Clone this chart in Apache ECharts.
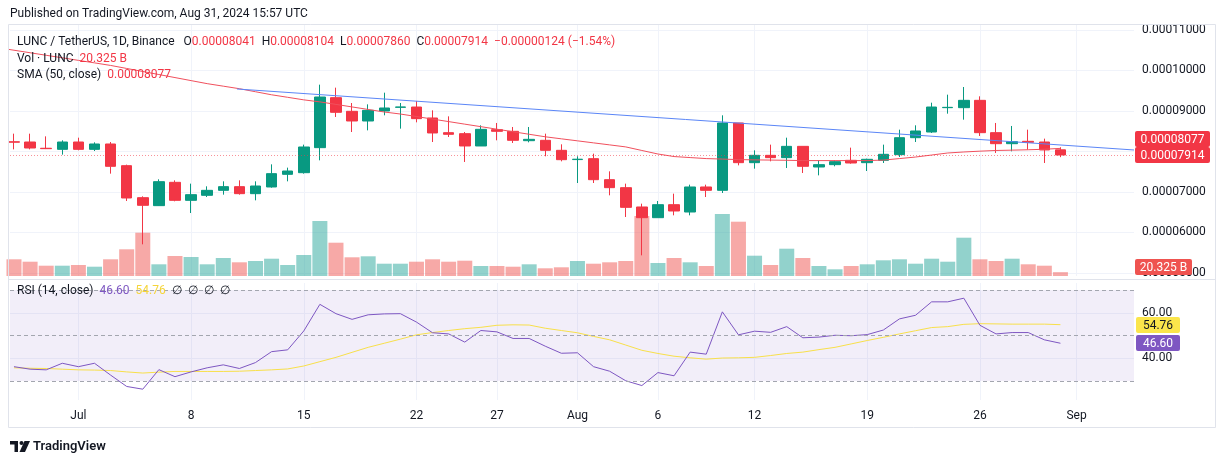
<!DOCTYPE html>
<html><head><meta charset="utf-8">
<script src="https://cdn.jsdelivr.net/npm/echarts@6.0.0/dist/echarts.min.js"></script>
<style>html,body{margin:0;padding:0;background:#fff}#c{width:1224px;height:464px}</style>
</head><body><div id="c"></div><script>
// Prices are stored in units of 1e-8 USDT (8041 = 0.00008041). Index 0 = Jun 27, 2024 ... index 65 = Aug 31, 2024.
const opens  = [8240,8234,8080,8053,8234,8053,8185,7650,6860,6663,7239,6794,6918,7041,7132,6959,7124,7436,7477,8095,9329,8992,8753,9000,9090,9098,8827,8465,8440,8136,8539,8498,8267,8276,8029,7800,7823,7304,7107,6630,6366,6687,6506,7124,7041,8704,7724,7905,7848,8127,7617,7675,7782,7724,7782,7922,8341,8481,9082,9082,9263,8465,8193,8251,8234,8041];
const highs  = [8440,8440,8374,8276,8341,8226,8234,7675,6893,7313,7288,7206,7140,7263,7288,7263,7683,7601,8169,9650,9576,9197,9164,9452,9197,9247,9016,8868,8481,8646,8704,8605,8605,8440,8177,7881,7946,7510,7206,6712,6778,6959,7181,7181,8893,8704,8029,8169,8341,8127,7782,7782,8095,7823,8169,8539,8646,9205,9403,9592,9362,8704,8630,8539,8317,8104];
const lows   = [8053,8053,8060,7922,8029,8012,7453,6778,5708,6654,6770,6481,6876,6934,6934,6794,7107,7263,7453,7782,8852,8481,8522,8893,8564,8720,8234,8358,7741,8136,8276,8210,8226,7881,7757,7222,7222,6918,6383,5436,6366,6424,6424,6876,6975,7658,7576,7757,7592,7469,7411,7634,7699,7518,7716,7864,8234,8457,8934,8786,8383,7963,8004,8045,7716,7860];
const closes = [8230,8086,8070,8234,8053,8185,7634,6852,6671,7255,6794,6934,7041,7132,6959,7148,7453,7518,8111,9345,8967,8753,9016,9074,9100,8811,8457,8424,8136,8547,8498,8276,8300,8029,7798,7810,7304,7107,6621,6366,6687,6531,7124,7041,8704,7724,7905,7848,8127,7634,7675,7749,7716,7807,7930,8341,8506,9098,9090,9263,8465,8193,8243,8226,8038,7914];
// Volume, billions of LUNC
const volumes = [88.5,75.8,54.6,54.6,58.3,49.3,88.5,141.5,229.5,62.0,106.0,100.7,62.0,95.4,72.6,79.5,91.7,58.3,111.3,291.5,176.5,99.1,104.4,65.2,65.2,75.8,88.5,75.8,81.1,53.0,53.0,49.3,62.0,40.8,46.1,79.5,65.2,72.6,79.5,318.0,68.9,95.4,72.6,53.0,328.6,287.8,107.6,58.3,144.7,95.4,53.0,35.5,53.0,62.0,83.2,88.5,65.2,91.7,75.8,203.0,88.5,79.5,91.7,62.0,54.6,20.325];
// SMA(50, close), starting at index -1 (Jun 26)
const SMA_START = -1;
const sma50 = [10563,10500,10438,10375,10313,10250,10188,10125,10050,9975,9900,9825,9750,9675,9613,9550,9475,9400,9338,9275,9225,9163,9100,9038,8975,8925,8863,8800,8738,8675,8613,8550,8488,8425,8363,8313,8263,8213,8163,8113,8025,7938,7875,7850,7825,7813,7800,7793,7788,7783,7775,7775,7775,7775,7775,7788,7825,7863,7913,7963,7988,8008,8025,8033,8043,8055,8077];
// Drawn trend line (two anchor points: day index, price)
const trendX = [13.85, 69.57];
const trendY = [9543, 8037];
// RSI(14) and its moving average
const rsi = [36.3,35.2,34.9,37.8,36.3,37.8,32.6,27.6,26.4,35.0,31.9,34.0,35.8,37.1,35.5,38.1,42.9,43.7,52.0,63.7,59.6,57.1,59.1,59.5,59.6,55.9,51.2,50.7,47.1,52.2,51.6,48.7,48.7,45.3,42.2,42.4,36.3,34.3,30.1,28.0,33.7,32.3,42.7,41.8,60.4,50.3,51.9,51.4,53.9,49.0,49.3,50.1,49.9,50.4,52.4,57.3,58.9,64.8,64.8,66.4,54.5,50.7,51.3,51.3,48.1,46.6];
const rsiMa = [35.8,35.6,35.5,35.2,34.9,34.8,34.6,34.0,33.5,33.9,34.2,34.2,34.2,34.2,34.3,34.6,34.9,35.3,36.6,38.5,40.4,42.6,44.8,46.6,48.4,50.3,51.3,52.2,53.0,53.6,54.5,54.7,54.6,53.2,52.2,51.2,49.6,48.1,45.8,43.5,42.1,40.9,40.2,39.6,40.1,40.2,40.4,41.2,42.1,42.7,43.8,44.8,46.3,47.8,49.2,50.7,52.1,53.5,53.9,54.9,55.2,55.1,55.0,55.0,55.0,54.76];
// Axis ticks
const tickIndex  = [4,11,18,25,30,35,40,46,53,60,66];
const tickLabels = ['Jul','8','15','22','27','Aug','6','12','19','26','Sep'];
const priceTicks = [5000,6000,7000,8000,9000,10000,11000];
const rsiTicks   = [40,60];
const rsiBands   = [70,50,30];

const FONT = 'Roboto, "Liberation Sans", sans-serif';
const UP = '#089981', DN = '#f23645';
const VOL_UP = 'rgba(38,166,154,0.5)', VOL_DN = 'rgba(239,83,80,0.5)';
const GRID_C = '#f0f3fa', TXT = '#131722';
const X_MIN = -0.248, X_MAX = 69.57;
const N = closes.length;
const fmtP = v => (v / 1e8).toFixed(8);

function xAxisDef(g) {
  return {
    type: 'value', gridIndex: g, min: X_MIN, max: X_MAX,
    axisLine: {show: false},
    axisTick: {show: false, customValues: tickIndex},
    axisLabel: {show: g === 2, customValues: tickIndex, color: TXT, fontSize: 12, fontFamily: FONT, margin: 10,
      formatter: v => tickLabels[tickIndex.indexOf(Math.round(v))] || ''},
    splitLine: {show: g !== 1, lineStyle: {color: GRID_C, width: 1}}
  };
}

const chg = closes[N-1] - closes[N-2];
const chgPct = chg / closes[N-2] * 100;
const minus = s => s.replace('-', '\u2212');
const richStyle = {
  d: {color: TXT, fontSize: 12, fontFamily: FONT},
  r: {color: DN, fontSize: 12, fontFamily: FONT},
  g: {width: 6},
  g2: {width: 9},
  p: {color: '#7e57c2', fontSize: 12, fontFamily: FONT},
  y: {color: '#f5d53a', fontSize: 12, fontFamily: FONT}
};

const chart = echarts.init(document.getElementById('c'), null, {renderer: 'canvas'});
const option = {
  animation: false,
  backgroundColor: '#ffffff',
  textStyle: {fontFamily: FONT},
  title: [
    {left: 10, top: 8, padding: 0, text: 'Published on TradingView.com, Aug 31, 2024 15:57 UTC',
      textStyle: {fontSize: 12, fontWeight: 'normal', color: TXT, fontFamily: FONT}},
    {left: 17, top: 36, padding: 0,
      text: '{d|LUNC / TetherUS, 1D, Binance}{g2|}{d|O}{r|' + fmtP(opens[N-1]) + '}{g|}{d|H}{r|' + fmtP(highs[N-1]) + '}{g|}{d|L}{r|' + fmtP(lows[N-1]) + '}{g|}{d|C}{r|' + fmtP(closes[N-1]) + '}{g|}{r|' + minus(fmtP(chg)) + ' (' + minus(chgPct.toFixed(2)) + '%)}',
      textStyle: {fontSize: 12, fontWeight: 'normal', color: TXT, fontFamily: FONT, rich: richStyle}},
    {left: 17, top: 53, padding: 0,
      text: '{d|Vol \u00b7 LUNC}{g|}{r|' + volumes[N-1].toFixed(3) + ' B}',
      textStyle: {fontSize: 12, fontWeight: 'normal', color: TXT, fontFamily: FONT, rich: richStyle}},
    {left: 17, top: 69, padding: 0,
      text: '{d|SMA (50, close)}{g|}{r|' + fmtP(sma50[sma50.length-1]) + '}',
      textStyle: {fontSize: 12, fontWeight: 'normal', color: TXT, fontFamily: FONT, rich: richStyle}},
    {left: 17, top: 285, padding: 0,
      text: '{d|RSI (14, close)}{g|}{p|' + rsi[N-1].toFixed(2) + '}{g|}{y|' + rsiMa[N-1].toFixed(2) + '}{g|}{d|\u2205  \u2205  \u2205  \u2205}',
      textStyle: {fontSize: 12, fontWeight: 'normal', color: TXT, fontFamily: FONT, rich: richStyle}},
    {left: 33, top: 440, padding: 0, text: 'TradingView',
      textStyle: {fontSize: 13, fontWeight: 600, color: TXT, fontFamily: FONT}}
  ],
  grid: [
    {left: 10, top: 25, width: 1124, height: 251},
    {left: 10, top: 176, width: 1124, height: 100},
    {left: 10, top: 283, width: 1124, height: 117}
  ],
  xAxis: [xAxisDef(0), xAxisDef(1), xAxisDef(2)],
  yAxis: [
    {type: 'value', gridIndex: 0, position: 'right', min: 4926, max: 11123,
      axisLine: {show: false}, axisTick: {show: false, customValues: priceTicks},
      axisLabel: {customValues: priceTicks, formatter: fmtP, color: TXT, fontSize: 12, fontFamily: FONT, margin: 8},
      splitLine: {lineStyle: {color: GRID_C, width: 1}}},
    {type: 'value', gridIndex: 1, min: 0, max: 530, show: false, splitLine: {show: false}},
    {type: 'value', gridIndex: 2, position: 'right', min: 21.65, max: 73.08,
      axisLine: {show: false}, axisTick: {show: false, customValues: rsiTicks},
      axisLabel: {customValues: rsiTicks, formatter: v => v.toFixed(2), color: TXT, fontSize: 12, fontFamily: FONT, margin: 8},
      splitLine: {lineStyle: {color: GRID_C, width: 1}}}
  ],
  series: [
    {type: 'bar', name: 'Vol', xAxisIndex: 1, yAxisIndex: 1, barWidth: 15, z: 1,
      data: volumes.map((v, i) => ({value: [i, v], itemStyle: {color: closes[i] >= opens[i] ? VOL_UP : VOL_DN}}))},
    {type: 'candlestick', name: 'LUNC', xAxisIndex: 0, yAxisIndex: 0, barWidth: 11, z: 3,
      encode: {x: 0, y: [1, 2, 3, 4]},
      data: opens.map((o, i) => [i, o, closes[i], lows[i], highs[i]]),
      itemStyle: {color: UP, color0: DN, borderColor: UP, borderColor0: DN, borderWidth: 1},
      markLine: {silent: true, symbol: 'none', label: {show: false},
        lineStyle: {color: DN, type: [1, 2], width: 1, opacity: 0.55},
        data: [{yAxis: closes[N-1]}]}},
    {type: 'line', name: 'SMA', xAxisIndex: 0, yAxisIndex: 0, z: 4, showSymbol: false, symbol: 'none',
      lineStyle: {color: '#f0505d', width: 1},
      data: sma50.map((v, i) => [i + SMA_START, v])},
    {type: 'line', name: 'Trend', xAxisIndex: 0, yAxisIndex: 0, z: 4, showSymbol: false, symbol: 'none',
      lineStyle: {color: '#5b86f7', width: 1},
      data: trendX.map((x, i) => [x, trendY[i]])},
    {type: 'line', name: 'RSI MA', xAxisIndex: 2, yAxisIndex: 2, z: 3, showSymbol: false, symbol: 'none',
      lineStyle: {color: '#f8e04a', width: 1},
      data: rsiMa.map((v, i) => [i, v]),
      markArea: {silent: true, itemStyle: {color: 'rgba(126,87,194,0.1)'}, data: [[{yAxis: rsiBands[0]}, {yAxis: rsiBands[2]}]]},
      markLine: {silent: true, symbol: 'none', label: {show: false},
        lineStyle: {color: '#a3a6af', type: [4, 3], width: 1},
        data: rsiBands.map(v => ({yAxis: v}))}},
    {type: 'line', name: 'RSI', xAxisIndex: 2, yAxisIndex: 2, z: 4, showSymbol: false, symbol: 'none',
      lineStyle: {color: '#7e57c2', width: 1},
      data: rsi.map((v, i) => [i, v])}
  ]
};
chart.setOption(option);

function badge(x, yc, w, text, bg, fg) {
  return [
    {type: 'rect', z: 100, shape: {x: x, y: Math.round(yc) - 8, width: w, height: 16, r: 2}, style: {fill: bg}},
    {type: 'text', z: 101, x: x + w / 2, y: Math.round(yc) + 0.5,
      style: {text: text, fill: fg, font: '12px ' + FONT, align: 'center', verticalAlign: 'middle', textAlign: 'center', textVerticalAlign: 'middle'}}
  ];
}
const yClose = chart.convertToPixel({yAxisIndex: 0}, closes[N-1]);
let ySma = chart.convertToPixel({yAxisIndex: 0}, sma50[sma50.length-1]);
if (yClose - ySma < 16) ySma = yClose - 16;
const volBottom = chart.convertToPixel({yAxisIndex: 1}, 0);
const yVol = Math.min(chart.convertToPixel({yAxisIndex: 1}, volumes[N-1]), volBottom - 9);
const yRsi = chart.convertToPixel({yAxisIndex: 2}, rsi[N-1]);
const yRsiMa = chart.convertToPixel({yAxisIndex: 2}, rsiMa[N-1]);

const graphics = [
  {type: 'rect', z: 90, silent: true, shape: {x: 8.5, y: 24.5, width: 1207, height: 403}, style: {fill: 'none', stroke: '#e0e3eb', lineWidth: 1}},
  {type: 'line', z: 90, silent: true, shape: {x1: 8, y1: 279.5, x2: 1216, y2: 279.5}, style: {stroke: '#e0e3eb', lineWidth: 1}},
  // TradingView logo
  {type: 'rect', z: 90, shape: {x: 10, y: 441, width: 8, height: 3.5}, style: {fill: TXT}},
  {type: 'rect', z: 90, shape: {x: 14.5, y: 441, width: 3.5, height: 11}, style: {fill: TXT}},
  {type: 'circle', z: 90, shape: {cx: 21.5, cy: 443, r: 2}, style: {fill: TXT}},
  {type: 'polygon', z: 90, shape: {points: [[24.5, 441], [30, 441], [25, 452], [19.5, 452]]}, style: {fill: TXT}}
].concat(
  badge(1135, ySma, 75, fmtP(sma50[sma50.length-1]), '#f23645', '#ffffff'),
  badge(1135, yClose, 75, fmtP(closes[N-1]), '#f23645', '#ffffff'),
  badge(1135, yVol, 57, volumes[N-1].toFixed(3) + ' B', '#ef5350', '#ffffff'),
  badge(1136, yRsiMa, 44, rsiMa[N-1].toFixed(2), '#fbe54b', TXT),
  badge(1136, yRsi, 44, rsi[N-1].toFixed(2), '#7e57c2', '#ffffff')
);
chart.setOption({graphic: graphics});
</script></body></html>
